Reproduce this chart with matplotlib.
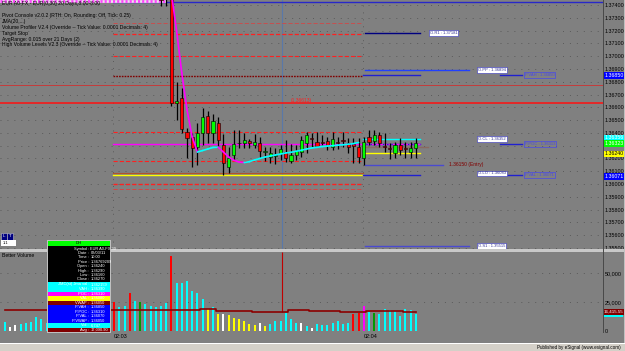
import numpy as np
import matplotlib
matplotlib.use('Agg')
import matplotlib.pyplot as plt
from matplotlib.patches import Rectangle

plt.rcParams['font.family'] = ['Liberation Sans', 'DejaVu Sans']
plt.rcParams['lines.scale_dashes'] = False

# ---------------- data ----------------
candle_first = 30
opens = [1.37460, 1.37470, 1.37600, 1.36636, 1.36670, 1.36409, 1.36370, 1.36292, 1.36401, 1.36532,
         1.36401, 1.36475, 1.36305, 1.36131, 1.36227, 1.36321, 1.36321, 1.36339, 1.36305, 1.36323,
         1.36250, 1.36214, 1.36218, 1.36240, 1.36248, 1.36180, 1.36227, 1.36253, 1.36318, 1.36362,
         1.36331, 1.36325, 1.36336, 1.36292, 1.36325, 1.36348, 1.36318, 1.36310, 1.36292, 1.36201,
         1.36365, 1.36339, 1.36383, 1.36295, 1.36280, 1.36245, 1.36305, 1.36280, 1.36253, 1.36279]
highs = [1.37500, 1.37520, 1.37620, 1.36798, 1.36751, 1.36438, 1.36399, 1.36477, 1.36595, 1.36573,
         1.36548, 1.36527, 1.36391, 1.36290, 1.36422, 1.36422, 1.36397, 1.36352, 1.36391, 1.36370,
         1.36292, 1.36292, 1.36279, 1.36305, 1.36344, 1.36313, 1.36305, 1.36376, 1.36405, 1.36397,
         1.36409, 1.36383, 1.36370, 1.36409, 1.36370, 1.36409, 1.36358, 1.36358, 1.36362, 1.36370,
         1.36422, 1.36422, 1.36409, 1.36397, 1.36318, 1.36331, 1.36358, 1.36331, 1.36331, 1.36358]
lows = [1.37395, 1.37390, 1.36610, 1.36501, 1.36401, 1.36204, 1.36131, 1.36149, 1.36305, 1.36321,
        1.36321, 1.36292, 1.36071, 1.36086, 1.36188, 1.36282, 1.36282, 1.36282, 1.36282, 1.36201,
        1.36182, 1.36162, 1.36157, 1.36188, 1.36175, 1.36167, 1.36188, 1.36214, 1.36240, 1.36292,
        1.36305, 1.36305, 1.36266, 1.36266, 1.36272, 1.36292, 1.36240, 1.36162, 1.36164, 1.36149,
        1.36305, 1.36305, 1.36292, 1.36253, 1.36193, 1.36201, 1.36227, 1.36201, 1.36201, 1.36201]
closes = [1.37440, 1.37450, 1.36631, 1.36649, 1.36430, 1.36362, 1.36279, 1.36399, 1.36524, 1.36401,
          1.36495, 1.36344, 1.36162, 1.36201, 1.36313, 1.36318, 1.36344, 1.36318, 1.36331, 1.36261,
          1.36256, 1.36245, 1.36226, 1.36272, 1.36201, 1.36227, 1.36261, 1.36344, 1.36383, 1.36355,
          1.36297, 1.36322, 1.36305, 1.36350, 1.36322, 1.36340, 1.36292, 1.36300, 1.36214, 1.36331,
          1.36331, 1.36383, 1.36318, 1.36292, 1.36277, 1.36305, 1.36266, 1.36277, 1.36284, 1.36323]

jma_first = 32
jma = [1.37494, 1.37197, 1.36868, 1.36579, 1.36368, 1.36250, 1.36262, 1.36274, 1.36286, 1.36288,
       1.36250, 1.36212, 1.36186, 1.36172, 1.36168, 1.36175, 1.36188, 1.36200, 1.36211, 1.36219,
       1.36227, 1.36235, 1.36243, 1.36248, 1.36256, 1.36264, 1.36274, 1.36282, 1.36287, 1.36293,
       1.36297, 1.36300, 1.36304, 1.36307, 1.36311, 1.36316, 1.36325]

volumes = [8000, 3700, 5200, 6000, 7200, 8000, 12000, 10300, 7200,
           9500, 11000, 13500, 10000, 8500, 12500, 9000, 7500, 10500, 13000, 11000, 9000,
           25300, 20700, 21500, 32800, 25900, 25300, 23300, 21800, 20700, 21800, 24100, 64700,
           41400, 41400, 43100, 34500, 32800, 27600, 19000, 20400, 14700, 14700, 13800, 11500,
           10300, 8900, 6000, 5200, 6900, 4300, 6000, 8600, 8900, 15800, 10100, 7200, 6600,
           4300, 2900, 6000, 5200, 5200, 7200, 8600, 6000, 6600, 14700, 15300, 21800, 16600,
           15800, 14400, 19000, 18100, 17200, 13200, 18700, 18100, 14700]
vol_kind = list("cwwcccccc" + "cccccccccccc" + "rccrcgcccccr" + "cccccc" + "ycywyyyyyywy"
                + "ccccccwcwccccccc" + "rrmcgcccccccc")
vol_avg = [18100] * 38 + [18700] * 3 + [17500] * 7 + [16600] * 7 + [18100] * 4 + \
          [17200] * 6 + [16100] * 5 + [17200] * 7 + [16415] * 3

price_ticks = [1.3740, 1.3730, 1.3720, 1.3710, 1.3700, 1.3690, 1.3680, 1.3670, 1.3660, 1.3650,
               1.3640, 1.3630, 1.3620, 1.3610, 1.3600, 1.3590, 1.3580, 1.3570, 1.3560, 1.3550]
price_tick_labels = ['1.37400', '1.37300', '1.37200', '1.37100', '1.37000', '1.36900', '1.36800',
                     '1.36700', '1.36600', '1.36500', '1.36400', '', '1.36200', '1.36100',
                     '1.36000', '1.35900', '1.35800', '1.35700', '1.35600', '1.35500']
vol_ticks = [50000, 25000, 0]
vol_tick_labels = ['50,000', '25,000', '0']
date_ticks = [21, 69]
date_labels = ['02:03', '02:04']

# previous-day levels (drawn across the first session)
prev_levels = [1.37262, 1.37173, 1.36999, 1.36847, 1.36409, 1.36313, 1.36180,
               1.36084, 1.36068, 1.36000, 1.35959]
# full width levels
wide_levels = [1.36772, 1.36631]
# current-day pivot labels
pivot_names = ['O.R1', 'O.PP', 'O.CL', 'O.LO', 'O.S1']
pivot_values = [1.37181, 1.36894, 1.36352, 1.36083, 1.35515]
prof_names = ['P.VAH', 'P.POC', 'P.VAL']
prof_values = [1.36850, 1.36313, 1.36071]
cur_vah, cur_poc, cur_mid, cur_val = 1.36350, 1.36310, 1.36292, 1.36240
entry_value = 1.36151
marker_value = 1.36657
avg_last_label = '16,415.55'

# ---------------- layout ----------------
BG = '#808080'
W, H = 625, 351
fig = plt.figure(figsize=(6.25, 3.51), dpi=100)
fig.patch.set_facecolor(BG)

def fy(py):
    return 1 - py / H

ax = fig.add_axes([0, fy(249), 603 / W, fy(0) - fy(249)])
axv = fig.add_axes([0, fy(332.7), 603 / W, fy(252) - fy(332.7)])
for a in (ax, axv):
    a.set_facecolor(BG)
    a.set_xlim(-0.9615, 115.0)
    for s in a.spines.values():
        s.set_visible(False)
ax.set_ylim(1.35492, 1.37439)
axv.set_ylim(-1500, 68100)

ax.yaxis.set_ticks_position('right')
ax.set_yticks(price_ticks)
ax.set_yticklabels(price_tick_labels)
ax.tick_params(axis='y', length=0, pad=1.2, labelsize=3.9, labelcolor='black')
ax.set_xticks([])
axv.yaxis.set_ticks_position('right')
axv.set_yticks(vol_ticks)
axv.set_yticklabels(vol_tick_labels)
axv.tick_params(axis='y', length=0, pad=1.2, labelsize=3.9, labelcolor='black')
axv.set_xticks(date_ticks)
axv.set_xticklabels(date_labels)
axv.tick_params(axis='x', length=0, pad=1.2, labelsize=3.9, labelcolor='black')
for lbl in axv.get_xticklabels():
    lbl.set_ha('left')

DOT = (0.7, 4.3)
for t in price_ticks:
    ax.axhline(t, color='#5a5a5a', lw=0.7, dashes=DOT, zorder=0)
for t in vol_ticks[:2]:
    axv.axhline(t, color='#5a5a5a', lw=0.7, dashes=DOT, zorder=0)
for d in (20.8, 68.8):
    ax.axvline(d, color='#5a5a5a', lw=0.7, dashes=DOT, zorder=0)

# cursor line
ax.axvline(53.2, color='#5a78a8', lw=0.8, zorder=1)
axv.vlines(53.2, 16600, 68100, color='#c00000', lw=0.8, zorder=1)

# previous session levels
RD = (3, 1.5)
prev_styles = [('#d04848', 0.6, RD), ('#ff2020', 0.9, RD), ('#ff2020', 0.8, RD),
               ('#800000', 1.0, (1.2, 0.8)), ('#ff2020', 0.8, RD), ('#ff00ff', 1.0, None),
               ('#ff2020', 0.8, RD), ('#b05030', 0.8, None), ('#ffff00', 1.0, None),
               ('#ff2020', 1.0, RD), ('#d04848', 0.7, RD)]
for v, (c, lw, ds) in zip(prev_levels, prev_styles):
    kw = {'dashes': ds} if ds else {}
    ax.plot([20.8, 68.8], [v, v], color=c, lw=lw, zorder=2, **kw)
ax.axhline(wide_levels[0], color='#d03030', lw=0.6, zorder=2)
ax.axhline(wide_levels[1], color='#ff1010', lw=1.1, zorder=2)
ax.plot([20.8, 115], [1.37426, 1.37426], color='#2828c8', lw=1.0, zorder=2)
ax.plot([-0.96, 30.8], [1.37432, 1.37432], color='#f0e0f0', lw=2.0, zorder=2)
ax.plot([-0.96, 30.8], [1.37432, 1.37432], color='#ff40ff', lw=2.0, dashes=(1.5, 1.5), zorder=2)
ax.text(55, marker_value, '(1.36613)', color='#ff2020', fontsize=3.6, va='center', ha='left', zorder=3)

# current session lines
ax.plot([69.2, 79.8], [pivot_values[0]] * 2, color='#000080', lw=1.0, zorder=2)
ax.plot([69.2, 89.2], [pivot_values[1]] * 2, color='#2040ff', lw=1.0, zorder=2)
ax.plot([69.2, 89.2], [pivot_values[4]] * 2, color='#4a4ad0', lw=1.0, zorder=2)
for v in prof_values:
    ax.plot([68.8, 79.8], [v, v], color='#2020d0', lw=1.0, zorder=2)
    ax.plot([95.2, 99.4], [v, v], color='#2020d0', lw=1.0, zorder=2)
ax.plot([68.8, 79.8], [cur_vah] * 2, color='#00ffff', lw=1.0, zorder=3)
ax.plot([68.8, 79.8], [cur_poc] * 2, color='#ff00ff', lw=1.0, dashes=(2, 1), zorder=3)
ax.plot([68.8, 81.3], [cur_mid] * 2, color='#8a6a60', lw=1.0, zorder=3)
ax.plot([68.8, 79.8], [cur_val] * 2, color='#ffff00', lw=1.0, zorder=3)
ax.plot([69.2, 84.2], [entry_value] * 2, color='#4a4ad0', lw=1.0, zorder=2)
ax.text(85.4, entry_value, '1.36150 (Entry)', color='#800000', fontsize=3.6, va='center',
        ha='left', zorder=3)

# pivot labels
pivot_x = [81.7, 91, 91, 91, 91]
for nm, v, px in zip(pivot_names, pivot_values, pivot_x):
    ax.text(px, v, f'{nm} : {v:.5f}', fontsize=3.0, color='#303090', va='center', ha='left',
            zorder=4, bbox=dict(facecolor='white', edgecolor='#3030c0', lw=0.4, pad=0.6))
for nm, v in zip(prof_names, prof_values):
    ax.text(100, v, f'{nm} : {v:.5f}', fontsize=3.0, color='#4848e8', va='center', ha='left',
            zorder=4, bbox=dict(facecolor='none', edgecolor='#4848e8', lw=0.5, pad=0.6))

# candles
idx = np.arange(candle_first, candle_first + len(opens))
o = np.array(opens)
c = np.array(closes)
ax.vlines(idx, lows, highs, color='black', lw=0.9, zorder=5)
col = np.where(c >= o, '#00ff00', '#ff0000')
ax.bar(idx, np.maximum(np.abs(c - o), 0.00002), bottom=np.minimum(o, c), width=0.62,
       color=col, edgecolor='black', linewidth=0.4, zorder=6)

# JMA line coloured by slope
jx = np.arange(jma_first, jma_first + len(jma))
for i in range(len(jma) - 1):
    colr = '#00ffff' if jma[i + 1] > jma[i] else '#ff00ff'
    ax.plot(jx[i:i + 2], jma[i:i + 2], color=colr, lw=1.2, zorder=7, solid_capstyle='round')

# right axis value boxes
tr = ax.get_yaxis_transform()
boxes = [(1.36850, '1.36850', '#0000ff', 'white'), (1.36360, '1.36356', '#00ffff', 'white'),
         (1.36318, '1.36323', '#00ff00', 'white'), (1.36236, '1.36240', '#ffff00', 'black'),
         (1.36058, '1.36071', '#0000ff', 'white')]
for v, t, fc, tc in boxes:
    ax.text(1.0025, v, t, transform=tr, fontsize=3.8, color=tc, va='center', ha='left',
            clip_on=False, zorder=8, bbox=dict(facecolor=fc, edgecolor='none', pad=0.5))

# volume
vmap = {'c': '#00ffff', 'w': '#ffffff', 'y': '#ffff00', 'r': '#ff0000', 'g': '#009a00', 'm': '#ff00ff'}
xs = np.arange(len(volumes))
axv.bar(xs, volumes, width=0.36, color=[vmap[k] for k in vol_kind], zorder=3, antialiased=False)
axv.step(xs, vol_avg, where='mid', color='#8b0000', lw=1.2, zorder=4)
axv.text(1.0015, vol_avg[-1], avg_last_label, transform=axv.get_yaxis_transform(), fontsize=3.2,
         color='white', va='center', ha='left', clip_on=False, zorder=8,
         bbox=dict(facecolor='#800000', edgecolor='none', pad=0.5))

# ---------------- pixel overlay decorations ----------------
ov = fig.add_axes([0, 0, 1, 1], zorder=10)
ov.set_xlim(0, W)
ov.set_ylim(H, 0)
ov.axis('off')
ov.patch.set_alpha(0)

def rect(x, y, w, h, fc, ec='none', lw=0):
    ov.add_patch(Rectangle((x, y), w, h, facecolor=fc, edgecolor=ec, lw=lw))

# separators and borders
rect(0, 249, W, 2.5, '#c8c8c8')
rect(603, 0, 0.9, 333, '#4a4a4a')
rect(623.5, 0, 1.5, 343, '#c0c0c0')
rect(0, 332.5, 603, 0.8, '#5a5a5a')
rect(0, 343, W, 8, '#d4d0c8')
rect(0, 343, W, 0.6, '#ffffff')
rect(603.5, 314.6, 19, 2.4, '#00ffff')
ov.text(621, 347.3, 'Published by eSignal (www.esignal.com)', fontsize=3.3, ha='right',
        va='center', color='black')

# header texts
header = ['Pivot Console v2.0.2 (RTH: On, Rounding: Off, Tick: 0.25)',
          'JMA(20,...)',
          'Volume Profiler V2.4 (Override -- Tick Value: 0.0001 Decimals: 4)',
          'Target Stop',
          'AvgRange: 0.015 over 21 Days (2)',
          'High Volume Levels V2.3 (Override -- Tick Value: 0.0001 Decimals: 4)']
ov.text(2, 4.0, 'EUR A0-FX - EUR(0,30) 20 Days,8:00-8:00', fontsize=3.7, ha='left',
        va='center', color='black')
for k, line in enumerate(header):
    ov.text(2, 15.6 + 5.85 * k, line, fontsize=3.6, ha='left', va='center', color='black')
ov.text(2, 255.8, 'Better Volume', fontsize=3.7, ha='left', va='center', color='black')

# L / T buttons
rect(1, 233, 5.5, 6.5, '#000080', '#c0c0c0', 0.4)
rect(7, 233, 5.5, 6.5, '#000080', '#c0c0c0', 0.4)
ov.text(3.75, 236.3, 'L', fontsize=3.2, color='white', ha='center', va='center')
ov.text(9.75, 236.3, 'T', fontsize=3.2, color='white', ha='center', va='center')
rect(1, 240, 15, 6, '#ffffff')
ov.text(6, 243, '1:1', fontsize=3.0, color='black', ha='center', va='center')

# data window box
bx, bw = 48, 62
rect(bx - 0.7, 240.3, bw + 1.4, 92.2, '#c0c0c0')
sections = [(241, 246, '#00ff00'), (246, 282, '#000000'), (282, 291.5, '#00ffff'),
            (291.5, 296, '#ff00ff'), (296, 300.5, '#ffff00'), (300.5, 305, '#800000'),
            (305, 323, '#0000ff'), (323, 327.5, '#00ffff'), (327.5, 332, '#800000')]
for y0, y1, fc in sections:
    rect(bx, y0, bw, y1 - y0, fc)
ov.text(bx + bw / 2, 243.5, 'DH', fontsize=3.0, color='black', ha='center', va='center')
rows = [('Symbol', 'EUR A0-FX,30'), ('Date', '02/03/11'), ('Time', '10:00'),
        ('Price', '1.36769209'), ('Open', '1.36240'), ('High', '1.36290'),
        ('Low', '1.36160'), ('Close', '1.36270'),
        ('JMC(st) Jma val', '1.362159'), ('VAH', '1.36390'), ('POC', '1.36310'),
        ('VAL', '1.36080'), ('VWAP', '1.36050'), ('P.VAH', '1.36850'), ('P.POC', '1.36310'),
        ('P.VAL', '1.36070'), ('P.VWAP', '1.36050'), ('Vol', '6,747'), ('Avg', '17,090.90')]
row_y = [248.7, 253.1, 257.5, 261.9, 266.3, 270.7, 275.1, 279.5,
         284.5, 289.0, 293.8, 298.3, 302.8, 307.3, 311.7, 316.2, 320.6, 325.3, 329.8]
for (lab, val), yy in zip(rows, row_y):
    ov.text(89, yy, lab + ' :', fontsize=2.9, color='white', ha='right', va='center')
    ov.text(90.5, yy, val, fontsize=2.9, color='white', ha='left', va='center')

fig.savefig('out.png', dpi=100, facecolor=BG)
